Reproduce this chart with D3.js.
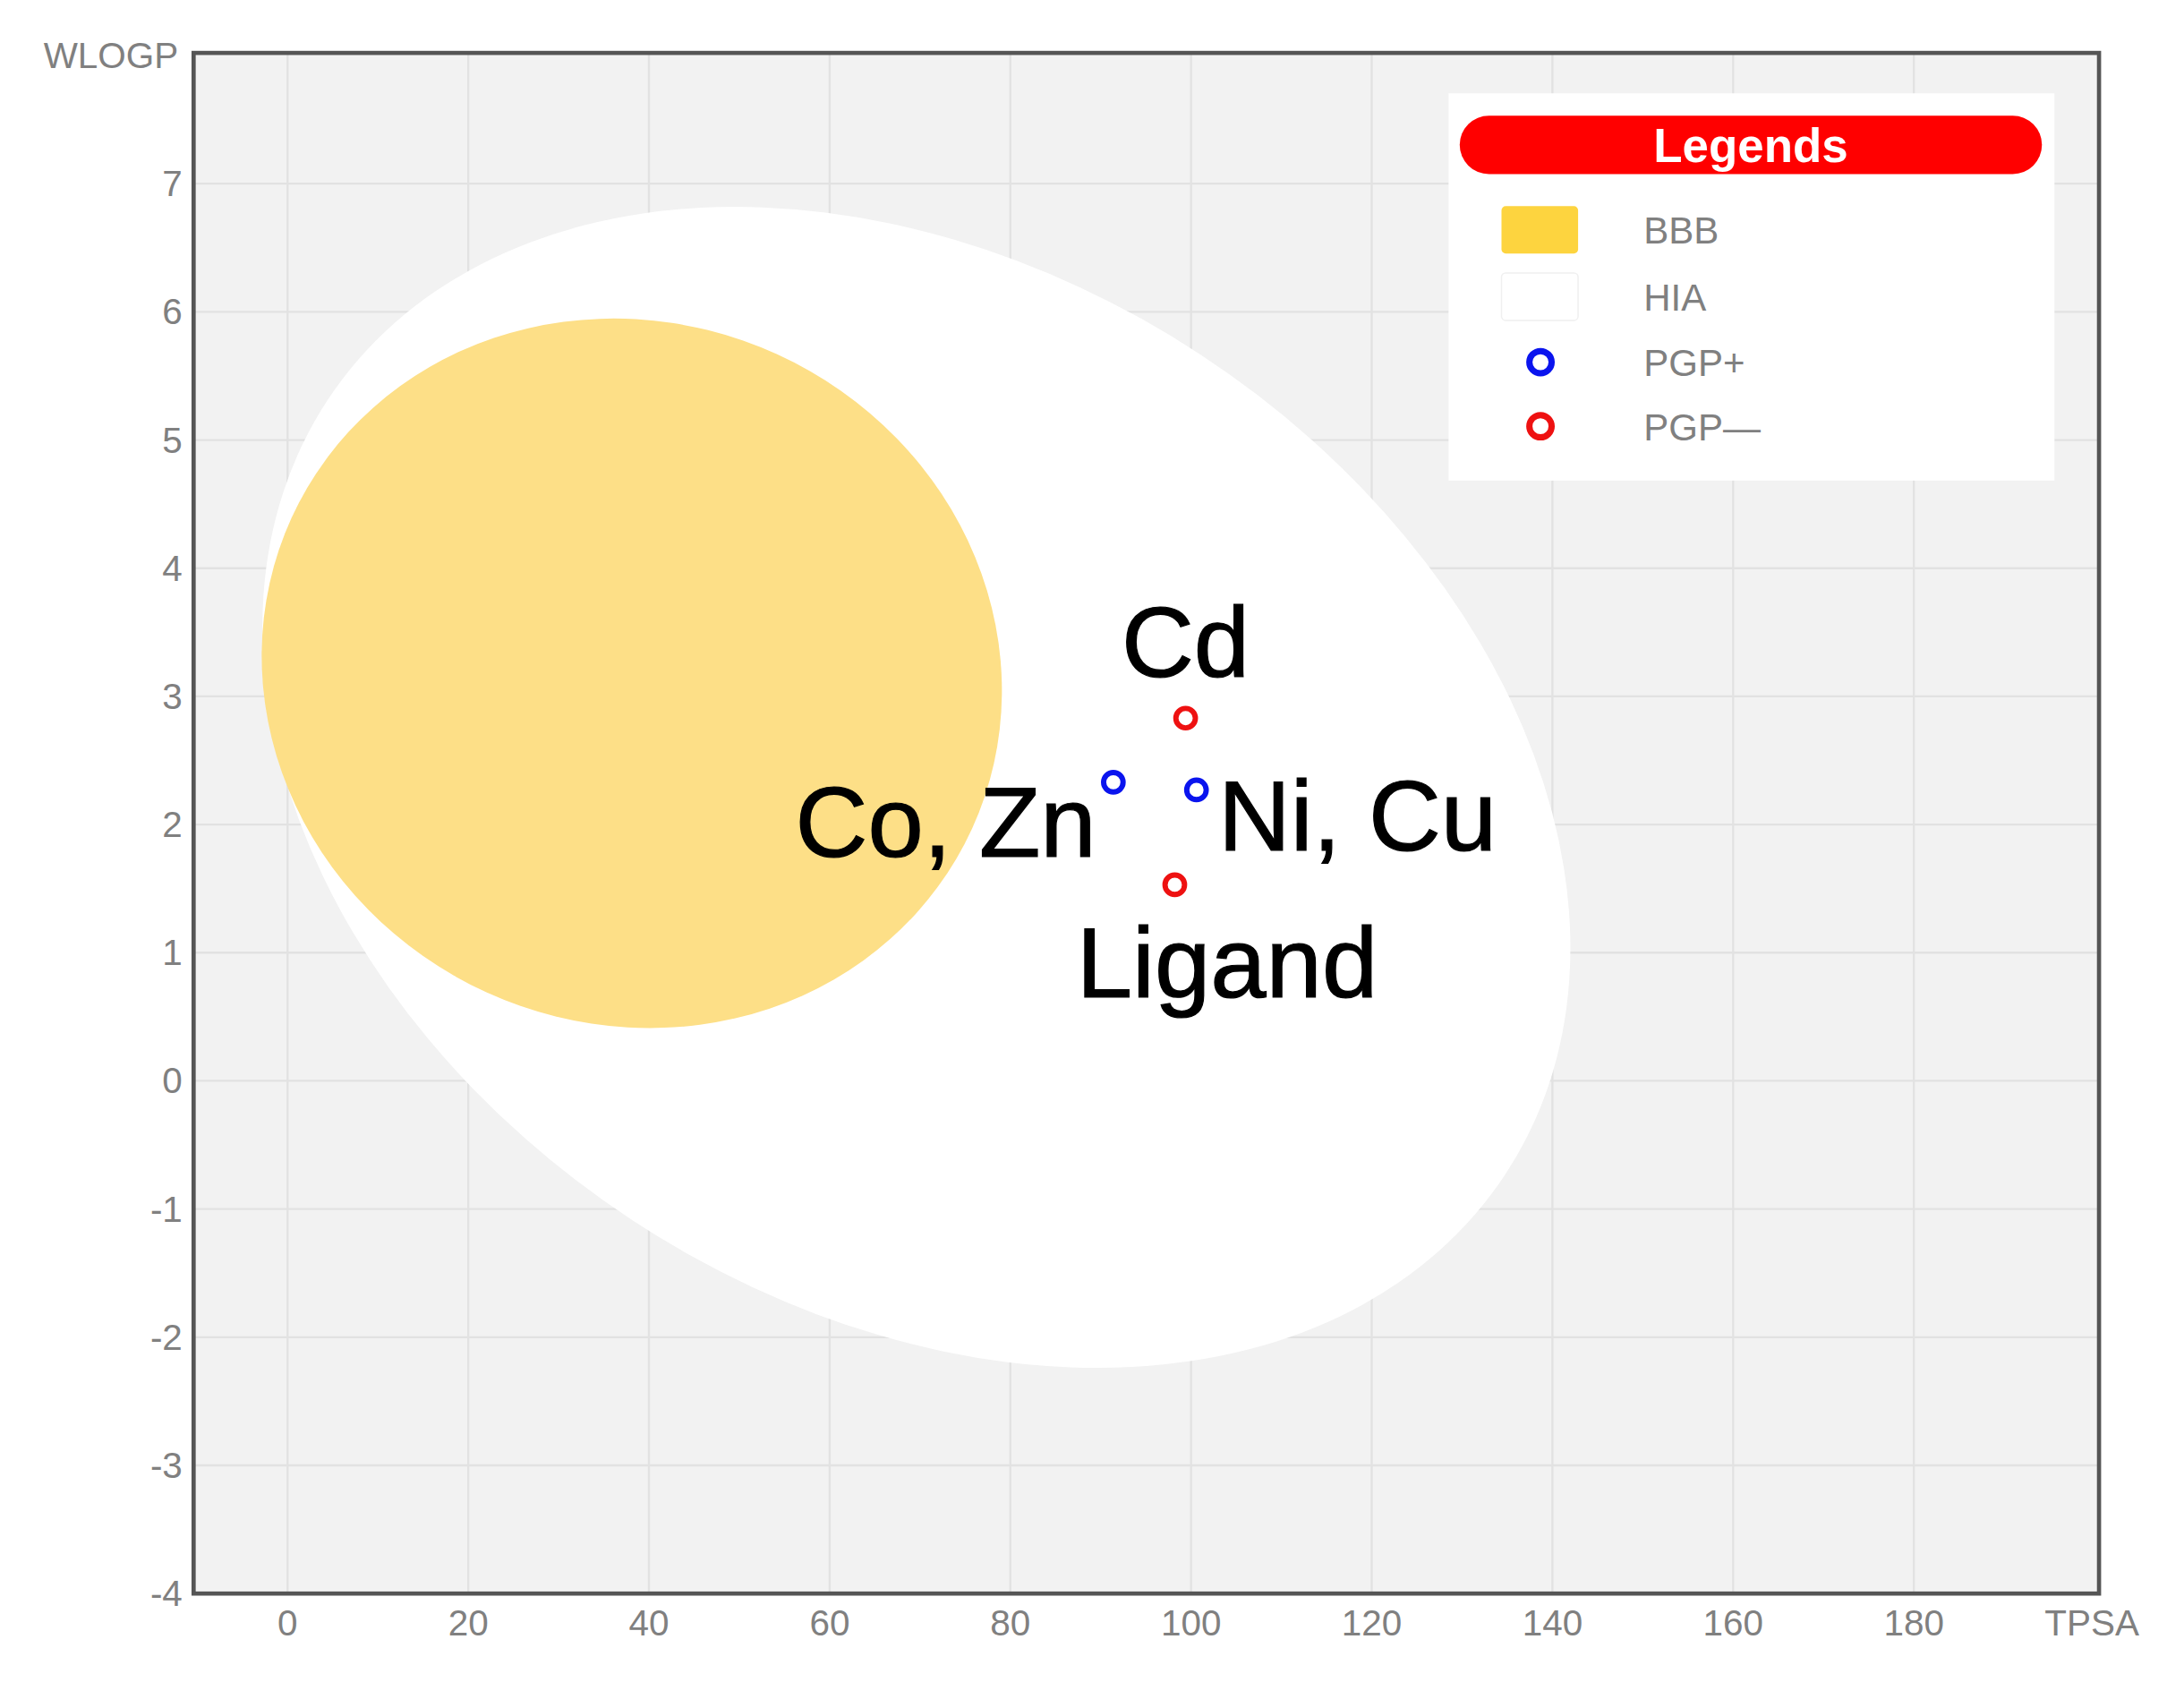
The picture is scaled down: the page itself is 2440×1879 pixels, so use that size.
<!DOCTYPE html>
<html><head><meta charset="utf-8">
<script src="https://cdn.jsdelivr.net/npm/d3@7"></script>
<style>body{margin:0;background:#fff}svg{display:block}</style>
</head><body>
<script>
const xTicks=[0,20,40,60,80,100,120,140,160,180];
const yTicks=[-4,-3,-2,-1,0,1,2,3,4,5,6,7];
const pointNames=["Cd","Co, Zn","Ni, Cu","Ligand"];
const pointX=[99.4,91.4,100.6,98.2];
const pointY=[2.83,2.33,2.27,1.53];
const pointType=["PGP—","PGP+","PGP+","PGP—"];
const labelTexts=["Cd","Co, Zn","Ni, Cu","Ligand"];
const labelX=[99.4,89.5,103,104];
const labelY=[3.15,1.75,1.8,0.65];
const labelAnchor=["middle","end","start","middle"];
// ellipses: center (data), semi-axes in x-units, rotation deg
const regionNames=["HIA","BBB"];
const regionCX=[69.6,38.1];
const regionCY=[2.29,3.18];
const regionA=[78,41.4];
const regionB=[57.3,38.8];
const regionRot=[33.3,24.5];
const legendItems=["BBB","HIA","PGP+","PGP—"];

const W=1568,H=1207.5;
const svg=d3.select("body").append("svg").attr("width",2440).attr("height",1879).attr("viewBox",`0 0 ${W} ${H}`);
const L=139,R=1507,T=38,B=1144;
const x=d3.scaleLinear().domain([-10.4,200.5]).range([L,R]);
const y=d3.scaleLinear().domain([8.02,-4]).range([T,B]);
const font="Liberation Sans, Arial, sans-serif";
svg.append("rect").attr("x",L).attr("y",T).attr("width",R-L).attr("height",B-T).attr("fill","#f2f2f2");
const g=svg.append("g");
g.selectAll(".gx").data(xTicks).join("line").attr("x1",d=>x(d)).attr("x2",d=>x(d)).attr("y1",T).attr("y2",B).attr("stroke","#e2e2e2").attr("stroke-width",1.5);
g.selectAll(".gy").data(yTicks).join("line").attr("y1",d=>y(d)).attr("y2",d=>y(d)).attr("x1",L).attr("x2",R).attr("stroke","#e2e2e2").attr("stroke-width",1.5);
const pxPerX=x(1)-x(0);
const colors={HIA:"#ffffff",BBB:"#fddf87"};
regionNames.forEach((n,i)=>{
  svg.append("ellipse").attr("cx",0).attr("cy",0).attr("rx",regionA[i]*pxPerX).attr("ry",regionB[i]*pxPerX)
   .attr("transform",`translate(${x(regionCX[i])},${y(regionCY[i])}) rotate(${regionRot[i]})`).attr("fill",colors[n]);
});
svg.append("rect").attr("x",L).attr("y",T).attr("width",R-L).attr("height",B-T).attr("fill","none").attr("stroke","#555").attr("stroke-width",3);
svg.selectAll(".xt").data(xTicks).join("text").attr("x",d=>x(d)).attr("y",1174).attr("text-anchor","middle").attr("font-family",font).attr("font-size",26).attr("fill","#808080").text(d=>d);
svg.selectAll(".yt").data(yTicks).join("text").attr("x",131).attr("y",d=>y(d)+9).attr("text-anchor","end").attr("font-family",font).attr("font-size",26).attr("fill","#808080").text(d=>d);
svg.append("text").attr("x",128).attr("y",49).attr("text-anchor","end").attr("font-family",font).attr("font-size",26).attr("fill","#808080").text("WLOGP");
svg.append("text").attr("x",1468).attr("y",1174).attr("font-family",font).attr("font-size",26).attr("fill","#808080").text("TPSA");
const pc={"PGP+":"#0a14ee","PGP—":"#ee1111"};
svg.selectAll(".pt").data(pointX).join("circle").attr("cx",d=>x(d)).attr("cy",(d,i)=>y(pointY[i])).attr("r",7).attr("fill","#fff").attr("stroke",(d,i)=>pc[pointType[i]]).attr("stroke-width",3.8);
svg.selectAll(".lb").data(labelTexts).join("text").attr("x",(d,i)=>x(labelX[i])).attr("y",(d,i)=>y(labelY[i])).attr("text-anchor",(d,i)=>labelAnchor[i]).attr("font-family",font).attr("font-size",72).attr("fill","#000").attr("stroke","#000").attr("stroke-width",0.8).text(d=>d);
// legend
const lg=svg.append("g");
lg.append("rect").attr("x",1040).attr("y",67).attr("width",435).attr("height",278).attr("fill","#fff");
lg.append("rect").attr("x",1048).attr("y",83).attr("width",418).attr("height",42).attr("rx",21).attr("fill","#ff0000");
lg.append("text").attr("x",1257).attr("y",116).attr("text-anchor","middle").attr("font-family",font).attr("font-weight","bold").attr("font-size",34).attr("fill","#fff").text("Legends");
const ly=[165,213,260,306];
legendItems.forEach((n,i)=>{
  if(i<2) lg.append("rect").attr("x",1078).attr("y",ly[i]-17).attr("width",55).attr("height",34).attr("rx",3).attr("fill",i==0?"#fdd43f":"#fff").attr("stroke",i==0?"none":"#f0f0f0");
  else lg.append("circle").attr("cx",1106).attr("cy",ly[i]).attr("r",8).attr("fill","#fff").attr("stroke",pc[n]).attr("stroke-width",4.5);
  lg.append("text").attr("x",1180).attr("y",ly[i]+10).attr("font-family",font).attr("font-size",27).attr("fill","#808080").text(n);
});
</script></body></html>
